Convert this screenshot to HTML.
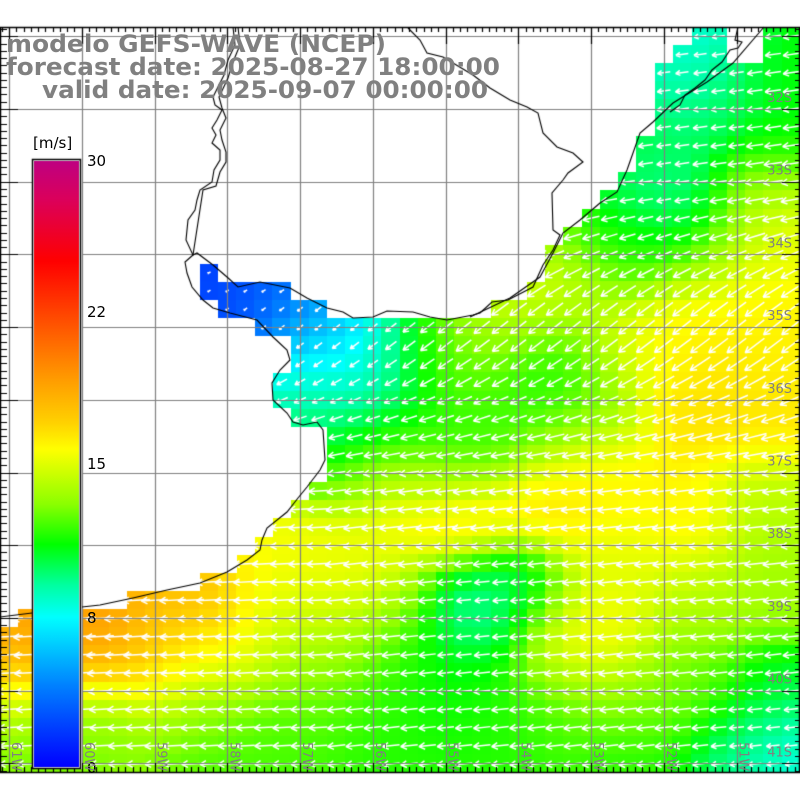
<!DOCTYPE html>
<html><head><meta charset="utf-8"><style>
html,body{margin:0;padding:0;background:#fff;}
#wrap{position:relative;width:800px;height:800px;overflow:hidden;}
canvas,svg{position:absolute;left:0;top:0;}
</style></head><body><div id="wrap">
<canvas id="c" width="800" height="800"></canvas>
<svg id="s" width="800" height="800" xmlns="http://www.w3.org/2000/svg">
<g font-family="DejaVu Sans, Liberation Sans, sans-serif" font-weight="bold" fill="#808080" font-size="24">
<text x="6" y="52" textLength="380" lengthAdjust="spacingAndGlyphs">modelo GEFS-WAVE (NCEP)</text>
<text x="6" y="75" textLength="494" lengthAdjust="spacingAndGlyphs">forecast date: 2025-08-27 18:00:00</text>
<text x="42" y="98" textLength="446" lengthAdjust="spacingAndGlyphs">valid date: 2025-09-07 00:00:00</text>
</g>
<g font-family="DejaVu Sans, Liberation Sans, sans-serif" fill="#000" font-size="15">
<text x="33" y="148">[m/s]</text>
<text x="87" y="166">30</text>
<text x="87" y="317">22</text>
<text x="87" y="469">15</text>
<text x="87" y="623">8</text>
<text x="87" y="773">0</text>
</g>
<g font-family="DejaVu Sans, Liberation Sans, sans-serif" fill="#808080" font-size="13" id="lab"></g>
</svg>
</div>
<script>
var cv=document.getElementById('c'),ctx=cv.getContext('2d');
var cs=18.19, x0=-0.1, y0=27.2;
var pts=[[700,40,8],[680,90,8.5],[720,110,10],[780,60,11],[780,150,11],[650,150,10.5],[660,200,8.5],[700,220,8.5],[620,230,10],[580,250,12],[560,280,15],[640,250,13],[720,250,16],[780,230,15.5],[760,200,14],
[210,280,2],[250,300,2.5],[300,310,4],[330,335,5],[350,360,6.5],[310,380,8],[350,395,9],[320,410,10],[380,350,9],[420,350,11.5],[460,340,13],[470,380,12],[500,320,15],[540,300,15],
[540,350,11],[560,380,11],[520,420,12],[580,420,13],[620,350,15],[680,330,16],[700,400,16.5],[780,350,16],[770,420,16.5],[600,470,16],[400,440,11],[450,460,11.5],[350,460,12],[400,490,16],[460,520,17],[560,500,16.5],[680,520,16],[770,500,14],[780,580,13.5],[700,600,14],[620,560,15],[600,640,15.5],[570,640,16],[640,700,13],[700,680,12.5],[770,700,10.5],[790,760,7.5],[740,760,9.5],[560,700,12],[500,720,11.5],[470,605,8.5],[520,600,10],[460,680,11],[400,640,11.5],[380,590,15],[330,600,15],[380,720,11.5],[300,720,12],[330,560,15.5],[270,580,15.5],[300,640,14],[200,600,18],[100,640,19],[50,650,19.5],[20,640,18.5],[160,660,17],[230,650,15.5],[100,720,13],[30,700,14],[200,710,13],[50,750,12.5],[230,760,12],[640,760,11.5],[330,670,13]];
function field(x,y){var s=0,w=0;for(var i=0;i<pts.length;i++){var dx=x-pts[i][0],dy=y-pts[i][1];var ww=Math.exp(-(dx*dx+dy*dy)/(2*35*35))+1e-9;s+=ww*pts[i][2];w+=ww;}return s/w;}
var cm=[[0,0,0,255],[4,0,128,255],[7.4,0,255,255],[9,0,255,160],[11,0,255,0],[13,140,255,0],[15.7,255,255,0],[17,255,210,0],[19,255,160,0],[22,255,80,0],[25,255,0,0],[28,220,0,90],[30,190,0,130]];
function col(v){if(v<=0)v=0;if(v>=30)v=30;for(var i=1;i<cm.length;i++){if(v<=cm[i][0]){var a=cm[i-1],b=cm[i],t=(v-a[0])/(b[0]-a[0]);return 'rgb('+Math.round(a[1]+(b[1]-a[1])*t)+','+Math.round(a[2]+(b[2]-a[2])*t)+','+Math.round(a[3]+(b[3]-a[3])*t)+')';}}return 'rgb(190,0,130)';}
var ocean=[[709,27],[800,27],[800,772],[0,772],[0,627],[18,627],[18,609],[127,609],[127,591],[200,591],[200,573],[237,573],[237,555],[255,555],[255,537],[273,537],[273,518],[291,518],[291,500],[309,500],[309,482],[327,482],[327,427],[291,427],[291,408],[273,408],[273,373],[291,373],[291,336],[255,336],[255,318],[218,318],[218,300],[200,300],[200,264],[218,264],[218,282],[291,282],[291,300],[327,300],[327,318],[491,318],[491,300],[527,300],[527,282],[545,282],[545,245],[563,245],[563,227],[582,227],[582,209],[600,209],[600,190],[618,190],[618,172],[636,172],[636,136],[655,136],[655,63],[673,63],[673,45],[692,45],[692,27]];
ctx.fillStyle='#fff';ctx.fillRect(0,0,800,800);
ctx.save();ctx.beginPath();ocean.forEach(function(p,i){i?ctx.lineTo(p[0],p[1]):ctx.moveTo(p[0],p[1]);});ctx.closePath();ctx.clip();
var cells=[];
for(var j=0;j<42;j++)for(var i=0;i<45;i++){var cx=x0+i*cs+cs/2,cy=y0+j*cs+cs/2;var v=field(cx,cy);ctx.fillStyle=col(v);ctx.fillRect(Math.floor(x0+i*cs),Math.floor(y0+j*cs),Math.ceil(cs)+1,Math.ceil(cs)+1);cells.push([cx,cy,v]);}
ctx.fillStyle='#fff';ctx.fillRect(727,27,36,36);
ctx.strokeStyle='#fff';ctx.lineWidth=1.5;
cells.forEach(function(c){var x=c[0],y=c[1],v=c[2];
 var th=(y<200?8:6+32*Math.exp(-Math.pow((y-330)/90,2)));
 if(x<330&&y>450)th=3; th=th*Math.PI/180;
 var L=v*1.5;var dx=Math.cos(th),dy=Math.sin(th);
 var tx=x-dx*L/2,ty=y+dy*L/2,hx=x+dx*L/2,hy=y-dy*L/2;
 ctx.beginPath();ctx.moveTo(hx,hy);ctx.lineTo(tx,ty);
 var hl=Math.min(7,L*0.4);
 for(var s=-1;s<=1;s+=2){var a=Math.atan2(hy-ty,hx-tx)+s*0.5;ctx.moveTo(tx,ty);ctx.lineTo(tx+Math.cos(a)*hl,ty+Math.sin(a)*hl);}
 ctx.stroke();});
ctx.restore();
ctx.strokeStyle='#808080';ctx.lineWidth=1.2;
for(var k=0;k<11;k++){var gx=Math.round(9+72.75*k)+0.5;ctx.beginPath();ctx.moveTo(gx,27);ctx.lineTo(gx,772);ctx.stroke();
 var gy=Math.round(36.3+72.7*k)+0.5;ctx.beginPath();ctx.moveTo(0,gy);ctx.lineTo(800,gy);ctx.stroke();}
function pl(a){ctx.beginPath();for(var i=0;i<a.length;i+=2){i?ctx.lineTo(a[i],a[i+1]):ctx.moveTo(a[i],a[i+1]);}ctx.stroke();}
ctx.strokeStyle='#000';ctx.lineWidth=1.1;
pl([233,27,235,45,228,60,224,75,213,97,215,105,222,110,217,120,212,128,216,135,212,143,220,150,220,160,214,170,212,182,200,190,197,200,195,210,188,220,186,240,193,255,185,262,187,273,192,287,203,300,213,308,230,313,257,320,273,337,287,350,290,360,280,370,272,383,273,400,287,413,293,422,303,425,317,422,323,430,325,460,320,470,307,487,298,498,287,512,267,528,262,540,260,550,247,560,227,572,200,583,167,590,133,598,100,605,82,607,32,613,0,617]);
pl([238,27,240,45,233,62,228,78,219,97,222,108,226,118,220,130,222,140,226,152,226,162,220,172,216,186,203,190,193,255,197,253,213,265,227,277,238,287,260,282,290,288,307,298,327,308,343,312,353,318,373,317,387,311,413,312,430,317,447,320,473,315,480,313,492,302,508,300,533,287,543,265,553,250,560,235,553,230,552,193,563,180,568,173,583,162,573,153,557,147,543,133,538,113,527,107,510,100,490,88,473,75,443,57,427,53,420,40,408,28]);
pl([764,27,733,63,707,82,673,103,653,122,640,133,633,153,627,170,617,192,600,203,580,220,563,233,553,253,540,277,510,298,470,317]);
pl([738,27,735,40,742,42,738,48,730,50,722,62,712,70,705,80,695,88,685,95,680,105,670,112]);
ctx.lineWidth=1.5;ctx.beginPath();ctx.moveTo(0,27.5);ctx.lineTo(800,27.5);ctx.moveTo(0,772.5);ctx.lineTo(800,772.5);ctx.moveTo(0.5,27);ctx.lineTo(0.5,772);ctx.moveTo(799.5,27);ctx.lineTo(799.5,772);ctx.stroke();
ctx.lineWidth=1.2;ctx.beginPath();
for(var k=-1;k<=110;k++){var x=9+7.275*k;if(x<0||x>800)continue;var mj=(k%10==0);ctx.moveTo(Math.round(x)+0.5,27);ctx.lineTo(Math.round(x)+0.5,27+(mj?17:5));ctx.moveTo(Math.round(x)+0.5,772);ctx.lineTo(Math.round(x)+0.5,772-(mj?9:5));}
for(var k=-1;k<=105;k++){var y=36.3+7.27*k;if(y<27||y>772)continue;var mj=(k%10==0);ctx.moveTo(0,Math.round(y)+0.5);ctx.lineTo(mj?18:7,Math.round(y)+0.5);ctx.moveTo(800,Math.round(y)+0.5);ctx.lineTo(800-(mj?18:5),Math.round(y)+0.5);}
ctx.stroke();
var g=ctx.createLinearGradient(0,767,0,160);
for(var i=0;i<cm.length;i++)g.addColorStop(cm[i][0]/30,'rgb('+cm[i][1]+','+cm[i][2]+','+cm[i][3]+')');
ctx.fillStyle='#fff';ctx.fillRect(32,159,50,610);
ctx.fillStyle=g;ctx.fillRect(34,161,45,606);
ctx.strokeStyle='#000';ctx.lineWidth=1.5;ctx.strokeRect(32.5,159.5,48,609);
var lab=document.getElementById('lab'),NS='http://www.w3.org/2000/svg';
var lats=['31S','32S','33S','34S','35S','36S','37S','38S','39S','40S','41S'];
for(var k=1;k<11;k++){var t=document.createElementNS(NS,'text');t.setAttribute('x',792);t.setAttribute('y',36.3+72.7*k-7);t.setAttribute('text-anchor','end');t.textContent=lats[k];lab.appendChild(t);}
var lons=['61W','60W','59W','58W','57W','56W','55W','54W','53W','52W','51W'];
for(var k=0;k<11;k++){var gx=9+72.75*k+3;var t=document.createElementNS(NS,'text');t.setAttribute('transform','translate('+gx+',742) rotate(90)');t.textContent=lons[k];lab.appendChild(t);}
</script>
</body></html>
